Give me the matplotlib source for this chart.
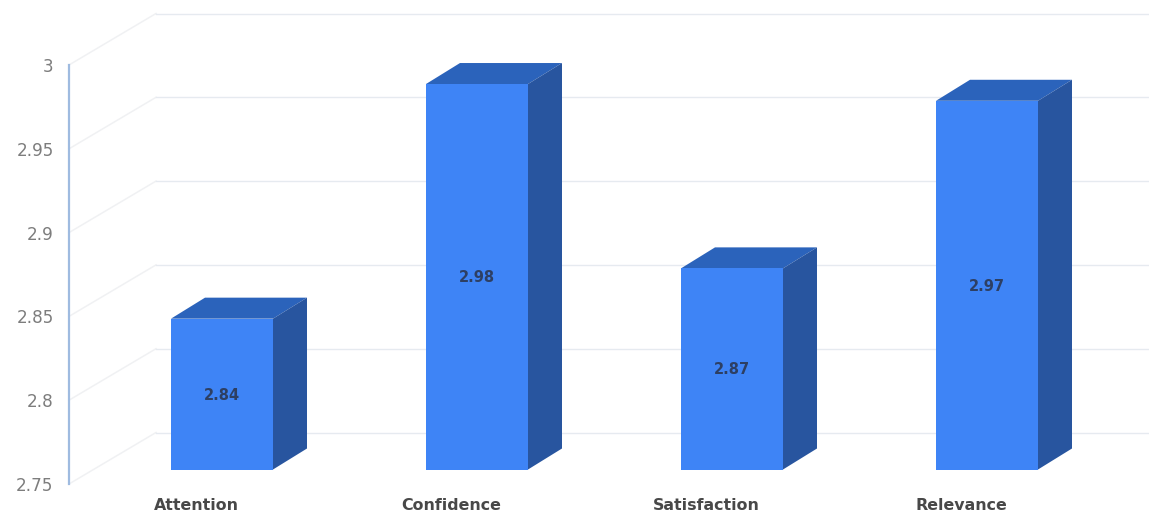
import matplotlib
matplotlib.use("Agg")
import matplotlib.pyplot as plt
from matplotlib.patches import Polygon
from matplotlib.transforms import Affine2D

categories = ["Attention", "Confidence", "Satisfaction", "Relevance"]
values = [2.84, 2.98, 2.87, 2.97]
y_ticks = [2.75, 2.8, 2.85, 2.9, 2.95, 3]
y_tick_labels = ["2.75", "2.8", "2.85", "2.9", "2.95", "3"]

W, H = 1149, 512
plt.rcParams["font.family"] = ["DejaVu Sans"]

fig = plt.figure(figsize=(W / 100, H / 100), dpi=100)
# plot area: front plane of the fake 3D box, in pixels
left, right, top, bottom = 69, 1149, 65, 484
ax = fig.add_axes([left / W, 1 - bottom / H, (right - left) / W, (bottom - top) / H])

px_per_cat = 255
px_per_unit = (bottom - top) / 0.25
ax.set_xlim((left - 222) / px_per_cat, (right - 222) / px_per_cat)
ax.set_ylim(2.75, 3)

# back wall depth, and bar depth
wall_dx, wall_dy = 87 / px_per_cat, 51.5 / px_per_unit
bar_dx, bar_dy = 34 / px_per_cat, 21 / px_per_unit
x0 = ax.get_xlim()[0]
x1 = ax.get_xlim()[1]

# floor, wall lines
for v in y_ticks:
    ax.plot([x0, x0 + wall_dx], [v, v + wall_dy], color="#f0f1f3", lw=1.1,
            clip_on=False, zorder=1)
    ax.plot([x0 + wall_dx, x1], [v + wall_dy, v + wall_dy], color="#e6eaf0", lw=1.0,
            clip_on=False, zorder=1)

# bars sit a little in front of the back wall
lift = Affine2D().translate(0, 14.5)
bar_w = 102 / px_per_cat
for i, v in enumerate(values):
    xl, xr = i - bar_w / 2, i + bar_w / 2
    base = 2.75
    ax.add_patch(Polygon([(xl, v), (xr, v), (xr + bar_dx, v + bar_dy), (xl + bar_dx, v + bar_dy)],
                         closed=True, fc="#2b63bb", ec="none", zorder=3,
                         transform=ax.transData + lift, clip_on=False))
    ax.add_patch(Polygon([(xr, base), (xr + bar_dx, base + bar_dy), (xr + bar_dx, v + bar_dy), (xr, v)],
                         closed=True, fc="#28559f", ec="none", zorder=3,
                         transform=ax.transData + lift, clip_on=False))
    ax.bar(i, v - base, bottom=base, width=bar_w, color="#3e84f6", zorder=4,
           transform=ax.transData + lift, clip_on=False)
    ax.text(i, (base + v) / 2, f"{v:.2f}", ha="center", va="center", fontsize=10.5,
            fontweight="bold", color="#2d3f63", zorder=5,
            transform=ax.transData + lift + Affine2D().translate(0, -1))

ax.set_yticks(y_ticks, y_tick_labels)
ax.tick_params(axis="y", length=0, pad=11, labelsize=12.2, labelcolor="#7d7d7d")
# category labels sit left of the bars
ax.set_xticks([i - 26 / px_per_cat for i in range(len(categories))], categories)
ax.tick_params(axis="x", length=0, pad=10, labelsize=11.4, labelcolor="#484848")
for lab in ax.get_xticklabels():
    lab.set_fontweight("bold")

for name in ["top", "right", "bottom"]:
    ax.spines[name].set_visible(False)
ax.spines["left"].set_color("#9fbbe0")
ax.spines["left"].set_linewidth(1.6)
ax.patch.set_alpha(0)

fig.savefig("out.png", dpi=100)
